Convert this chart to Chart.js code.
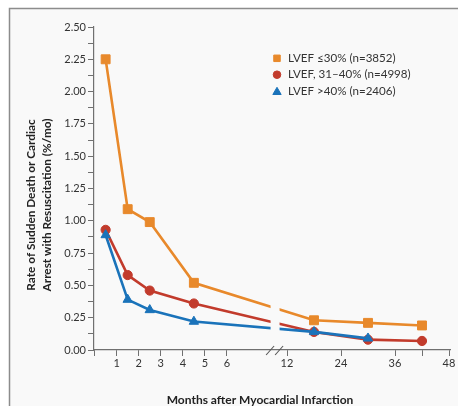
<!DOCTYPE html>
<html>
<head>
<meta charset="utf-8">
<script src="https://cdn.jsdelivr.net/npm/chart.js@4.4.1/dist/chart.umd.min.js"></script>
<style>
  html, body { margin: 0; padding: 0; background: #fff; }
  #wrap { width: 458px; height: 406px; }
</style>
</head>
<body>
<div id="wrap"><canvas id="chart" width="458" height="406"></canvas></div>
<script>
// Points de mesure (mois après l'infarctus)
const months = [0.5, 1.5, 2.5, 4.5, 18, 30, 42];
const lvefLow = [2.25, 1.09, 0.99, 0.52, 0.23, 0.21, 0.19];
const lvefMid = [0.93, 0.58, 0.46, 0.36, 0.14, 0.08, 0.07];
const lvefHigh = [0.89, 0.39, 0.31, 0.22, 0.14, 0.09];
const seriesLabels = ['LVEF \u226430% (n=3852)', 'LVEF, 31\u201340% (n=4998)', 'LVEF >40% (n=2406)'];
const xTicks = [0, 1, 2, 3, 4, 5, 6, 12, 24, 36, 42, 48];
const xTickLabels = ['', '1', '2', '3', '4', '5', '6', '12', '24', '36', '', '48'];

const colors = ['#E8892B', '#C23B2C', '#1A73BA'];
const markers = ['rect', 'circle', 'triangle'];
const markerSizes = [6.3, 4.6, 5.4];
const axisColor = '#707070';
const textColor = '#333';
const bgColor = '#f9f9f9';

// Axe X coupé : 0-8 mois à gauche, 12-48 mois compressés à droite
const BRK = { split: 8.3, leftOrigin: 0.6, leftStep: 22.06, rightOrigin: 193, rightStep: 4.5 };
class BrokenScale extends Chart.LinearScale {
    getPixelForValue(v) {
        if (v === null || v === undefined || isNaN(v)) return NaN;
        const off = v <= BRK.split
            ? BRK.leftOrigin + v * BRK.leftStep
            : BRK.rightOrigin + (v - 12) * BRK.rightStep;
        return this.left + off;
    }
    getValueForPixel(p) {
        const off = p - this.left;
        const splitOff = BRK.leftOrigin + BRK.split * BRK.leftStep;
        return off <= splitOff ? (off - BRK.leftOrigin) / BRK.leftStep : 12 + (off - BRK.rightOrigin) / BRK.rightStep;
    }
}
BrokenScale.id = 'broken';
BrokenScale.defaults = {};
Chart.register(BrokenScale);

Chart.defaults.font.family = 'Lato, "Open Sans", sans-serif';
Chart.defaults.color = textColor;

function toPoints(values) {
    return values.map((v, i) => ({ x: months[i], y: v }));
}

const seriesValues = [lvefLow, lvefMid, lvefHigh];
const datasets = seriesValues.map((vals, i) => ({
    label: seriesLabels[i],
    data: toPoints(vals),
    borderColor: colors[i],
    backgroundColor: colors[i],
    borderWidth: 2.6,
    pointStyle: markers[i],
    pointRadius: markerSizes[i],
    pointBorderWidth: 1,
    pointBackgroundColor: colors[i],
    pointBorderColor: colors[i],
    tension: 0,
    order: 2 - i
}));

// Fond + cadre
const framePlugin = {
    id: 'frame',
    beforeDraw(chart) {
        const ctx = chart.ctx;
        ctx.save();
        ctx.fillStyle = '#fff';
        ctx.fillRect(0, 0, chart.width, chart.height);
        ctx.fillStyle = bgColor;
        ctx.fillRect(9, 8, chart.width - 9, chart.height - 8);
        ctx.strokeStyle = '#8c8c8c';
        ctx.lineWidth = 1.5;
        ctx.beginPath();
        ctx.moveTo(9.5, chart.height);
        ctx.lineTo(9.5, 8.5);
        ctx.lineTo(chart.width, 8.5);
        ctx.stroke();
        ctx.restore();
    }
};

// Coupure de l'axe : trou dans les courbes + double barre oblique
const breakPlugin = {
    id: 'axisBreak',
    afterDatasetsDraw(chart) {
        const ctx = chart.ctx;
        const area = chart.chartArea;
        const xs = chart.scales.x;
        const cx = xs.getPixelForValue(8) + 4;
        ctx.save();
        ctx.fillStyle = bgColor;
        ctx.fillRect(cx - 4.5, area.top, 9, area.bottom - area.top - 2);
        ctx.strokeStyle = '#555';
        ctx.lineWidth = 1.1;
        const y = area.bottom;
        [-5, 4].forEach(dx => {
            ctx.beginPath();
            ctx.moveTo(cx + dx - 4, y + 5);
            ctx.lineTo(cx + dx + 4, y - 4);
            ctx.stroke();
        });
        ctx.restore();
    }
};

// Titres des axes et légende
const textPlugin = {
    id: 'texts',
    afterDraw(chart) {
        const ctx = chart.ctx;
        ctx.save();
        ctx.fillStyle = '#222';
        ctx.font = 'bold 11.8px Lato, sans-serif';
        ctx.textAlign = 'center';
        ctx.textBaseline = 'alphabetic';
        const yLines = ['Rate of Sudden Death or Cardiac', 'Arrest with Resuscitation (%/mo)'];
        yLines.forEach((txt, i) => {
            ctx.save();
            ctx.translate(34.5 + i * 16.3, 205);
            ctx.rotate(-Math.PI / 2);
            ctx.fillText(txt, 0, 0);
            ctx.restore();
        });
        ctx.font = 'bold 12px Lato, sans-serif';
        ctx.fillText('Months after Myocardial Infarction', 260, 404);

        // légende
        ctx.textAlign = 'left';
        ctx.textBaseline = 'middle';
        ctx.font = '11.6px Lato, sans-serif';
        const legendSizes = [4.6, 3.8, 4.8];
        seriesLabels.forEach((lab, i) => {
            const y = 58.3 + i * 16.4;
            ctx.fillStyle = colors[i];
            ctx.strokeStyle = colors[i];
            Chart.helpers.drawPoint(ctx, {
                pointStyle: markers[i], radius: legendSizes[i], rotation: 0, borderWidth: 1
            }, 277, i === 2 ? y + 1 : y);
            ctx.fillStyle = textColor;
            ctx.fillText(lab, 288, y);
        });
        ctx.restore();
    }
};

new Chart(document.getElementById('chart'), {
    type: 'line',
    data: { datasets: datasets },
    options: {
        responsive: false,
        animation: false,
        events: [],
        devicePixelRatio: 1,
        layout: { padding: { top: 27, right: 0, bottom: 0, left: 0 } },
        plugins: {
            legend: { display: false },
            tooltip: { enabled: false }
        },
        scales: {
            x: {
                type: 'broken',
                min: 0,
                max: 48,
                afterBuildTicks: (scale) => { scale.ticks = xTicks.map(v => ({ value: v })); },
                afterFit: (scale) => { scale.height = 56; scale.paddingLeft = 0; scale.paddingRight = 0; },
                ticks: {
                    autoSkip: false,
                    maxRotation: 0,
                    padding: 1,
                    font: { size: 11 },
                    color: textColor,
                    callback: (value, index) => xTickLabels[index]
                },
                grid: { drawOnChartArea: false, drawTicks: true, tickLength: 6, color: axisColor, lineWidth: 1 },
                border: { color: axisColor, width: 1.2 }
            },
            y: {
                min: 0,
                max: 2.5,
                afterFit: (scale) => { scale.width = 94; },
                ticks: {
                    stepSize: 0.125,
                    autoSkip: false,
                    padding: 2,
                    font: { size: 11 },
                    color: textColor,
                    callback: (v) => Math.abs(v * 4 - Math.round(v * 4)) < 1e-6 ? v.toFixed(2) : ''
                },
                grid: { drawOnChartArea: false, drawTicks: true, tickLength: 6, color: axisColor, lineWidth: 1 },
                border: { color: axisColor, width: 1.2 }
            }
        }
    },
    plugins: [framePlugin, breakPlugin, textPlugin]
});
</script>
</body>
</html>
